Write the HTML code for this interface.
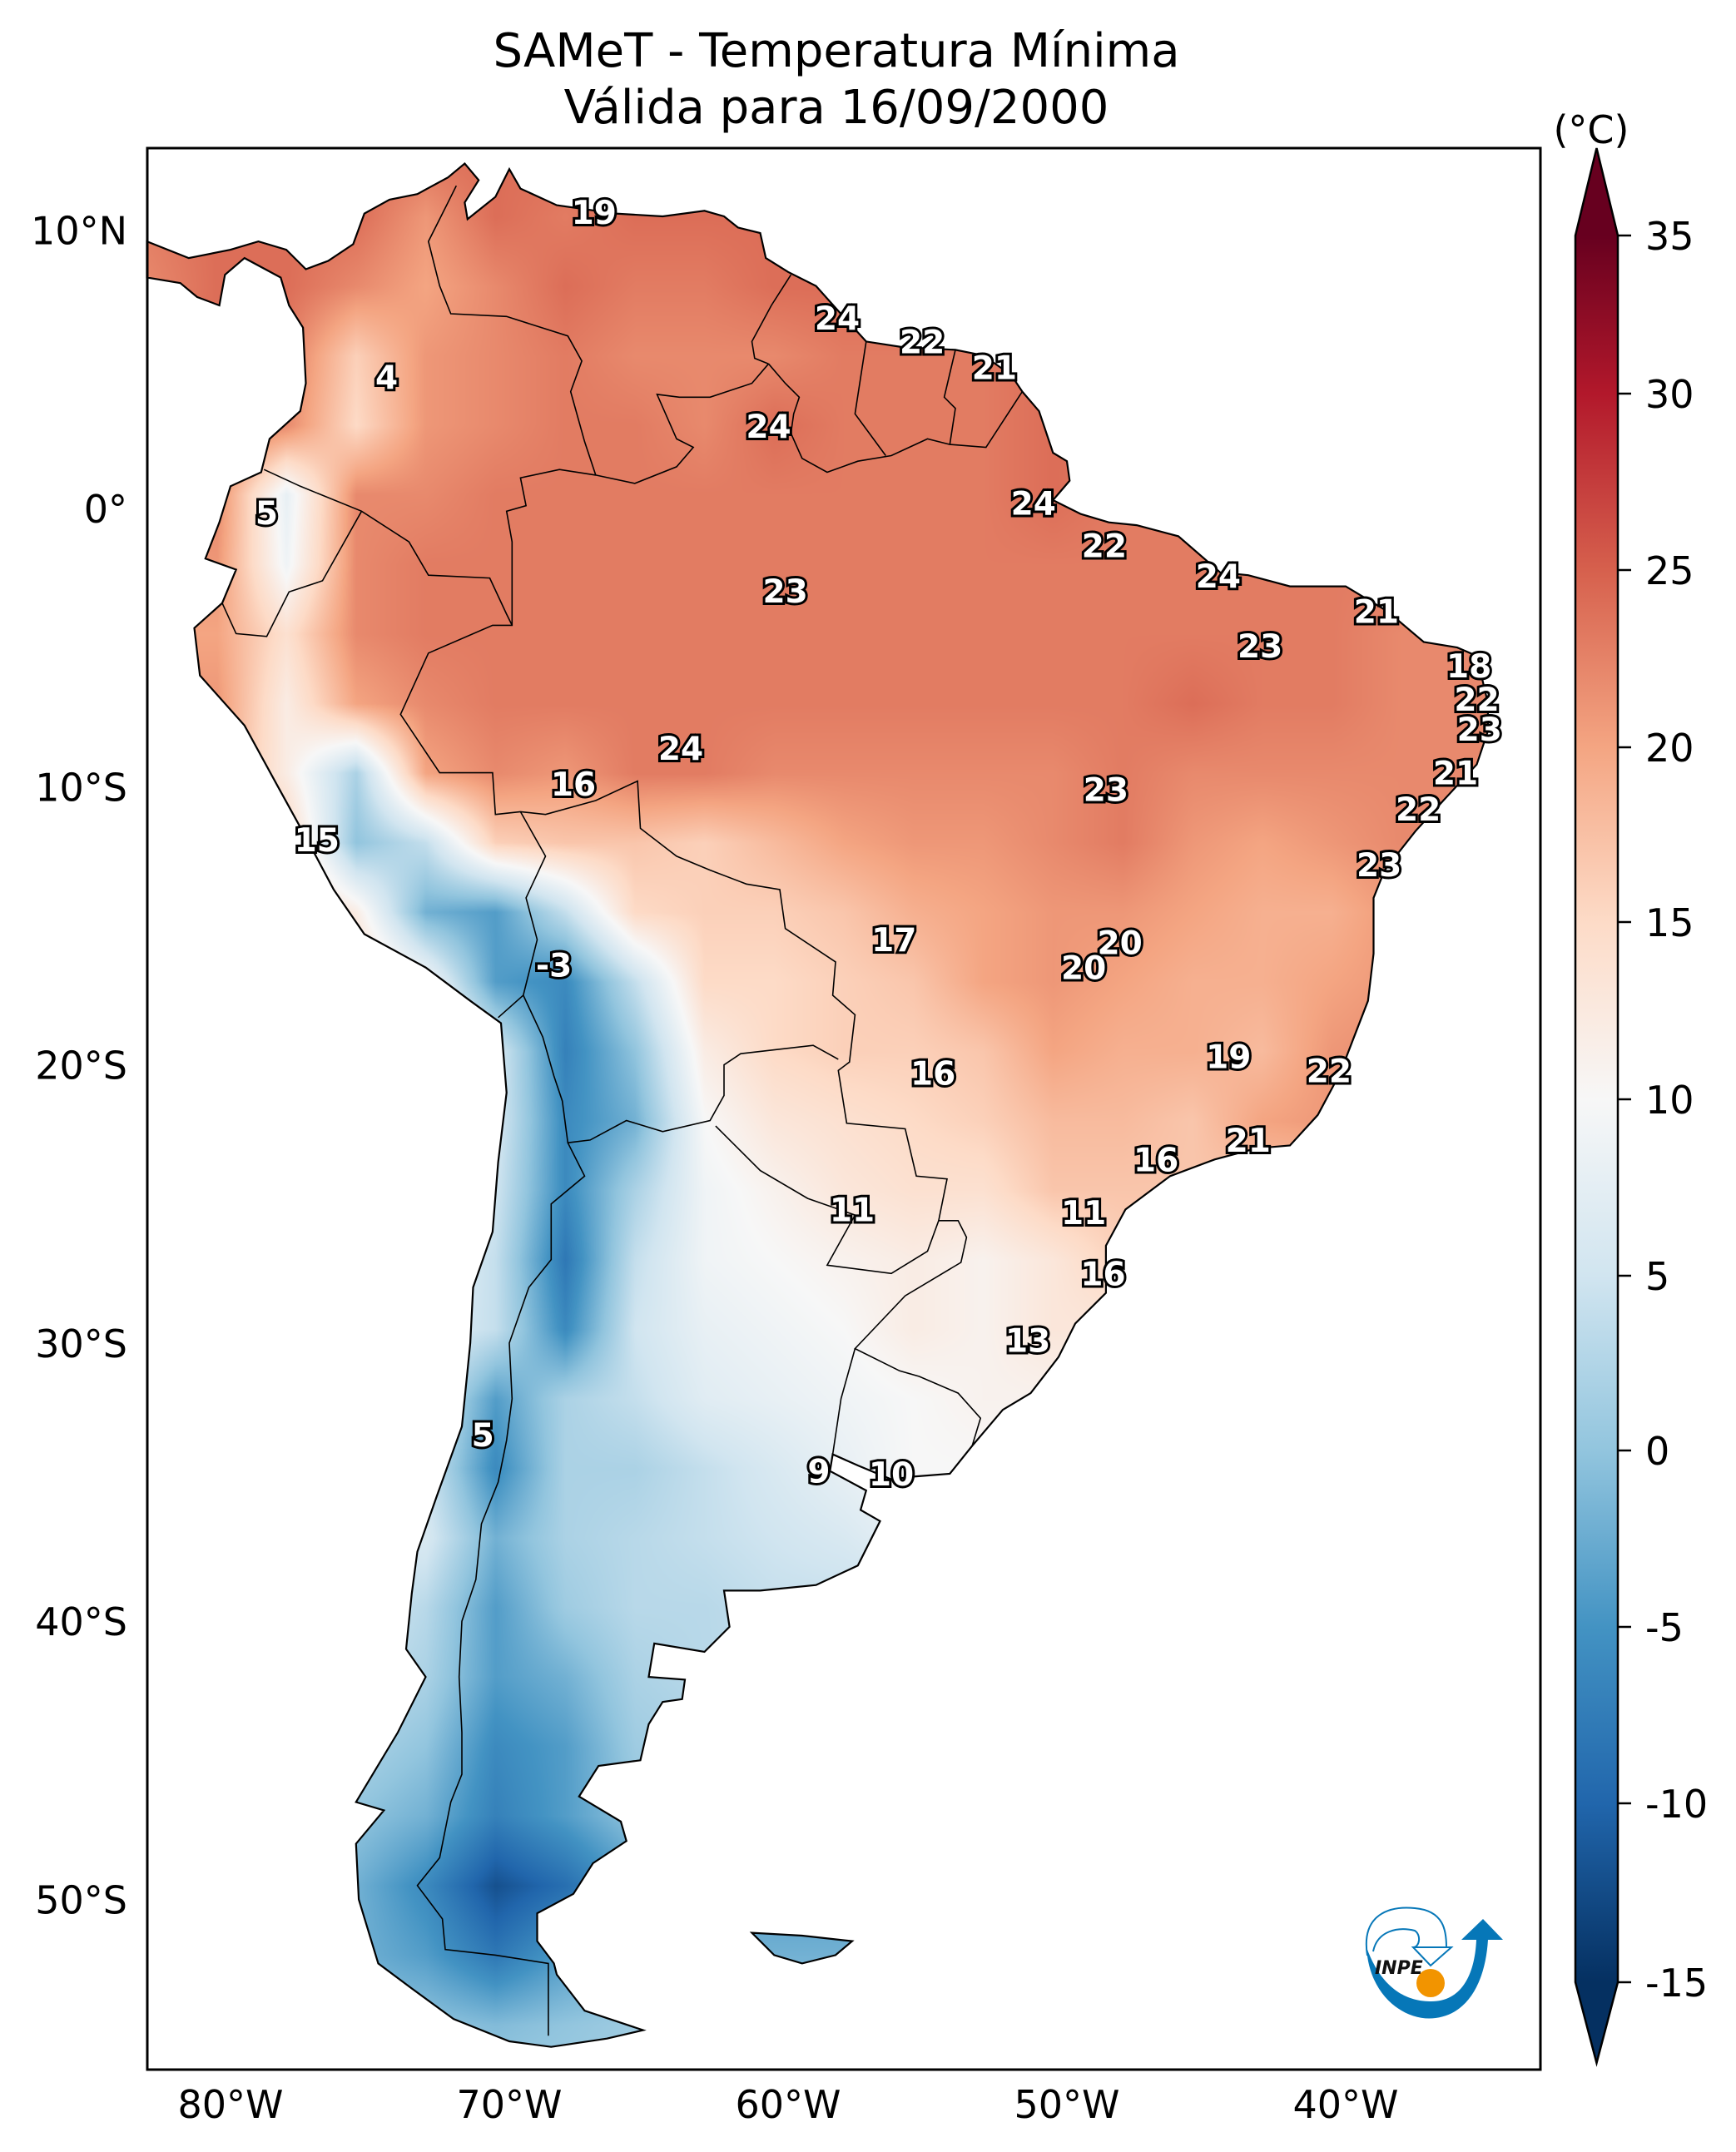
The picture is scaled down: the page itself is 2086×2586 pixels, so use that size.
<!DOCTYPE html>
<html><head><meta charset="utf-8">
<style>
html,body{margin:0;padding:0;background:#fff;}
#wrap{position:relative;width:2086px;height:2586px;overflow:hidden;font-family:"DejaVu Sans","Liberation Sans",sans-serif;}
canvas{position:absolute;left:0;top:0;}
svg{position:absolute;left:0;top:0;}
</style></head>
<body>
<div id="wrap">
<canvas id="field" width="2086" height="2586"></canvas>
<svg id="ov" width="2086" height="2586" xmlns="http://www.w3.org/2000/svg">
  <g id="title" font-size="56" text-anchor="middle" fill="#000">
    <text x="1005" y="80">SAMeT - Temperatura Mínima</text>
    <text x="1005" y="148">Válida para 16/09/2000</text>
  </g>
  <g id="borders"></g>
  <g id="coast"></g>
  <g id="labels"></g>
  <rect x="177" y="178" width="1674" height="2309" fill="none" stroke="#000" stroke-width="3"/>
  <g id="xticks" font-size="46" text-anchor="middle"></g>
  <g id="yticks" font-size="46" text-anchor="end"></g>
  <g id="cbar"></g>
  <g id="logo">
    <path d="M1642,2340 C1645,2400 1690,2430 1725,2425 C1765,2420 1785,2380 1788,2331 L1806,2331 L1782,2306 L1756,2331 L1774,2331 C1772,2375 1755,2405 1720,2405 C1690,2405 1660,2390 1642,2340 Z" fill="#0677b8"/>
    <path d="M1643,2350 C1635,2300 1670,2290 1700,2293 C1735,2296 1738,2320 1738,2340 M1650,2345 C1655,2320 1680,2315 1700,2320 C1708,2325 1706,2340 1698,2340" fill="none" stroke="#0677b8" stroke-width="2"/>
    <path d="M1698,2340 L1744,2340 L1719,2362 Z" fill="#fff" stroke="#0677b8" stroke-width="2"/>
    <circle cx="1719" cy="2383" r="17" fill="#f29400"/>
    <text x="1652" y="2372" font-size="22" font-style="italic" font-weight="bold" fill="#111">INPE</text>
  </g>
</svg>
</div>
<script>
// ---------- data ----------
const gridLons = [-83,-80.5,-78,-75.5,-73,-70.5,-68,-65.5,-63,-60.5,-58,-55.5,-53,-50.5,-48,-45.5,-43,-40.5,-38,-35.5,-33];
const gridLats = [13,10.5,8,5.5,3,0.5,-2,-4.5,-7,-9.5,-12,-14.5,-17,-19.5,-22,-24.5,-27,-29.5,-32,-34.5,-37,-39.5,-42,-44.5,-47,-49.5,-52,-54.5,-57];
const tempRows = [
 [24,24,24,24,24,24,24,24,24,24,24,24,24,24,24,24,24,24,24,24,24],
 [23,24,24,24,21,24,23,24,24,24,24,24,24,24,24,24,24,24,24,24,24],
 [22,24,24,22,20,22,24,23,23,24,24,24,24,24,24,24,24,24,24,24,24],
 [24,24,23,16,21,22,23,22,22,22,23,23,23,24,24,24,24,24,24,24,24],
 [24,24,22,15,21,22,23,23,22,24,23,23,23,24,24,24,24,24,24,24,24],
 [22,22,8,22,22,23,23,23,23,23,23,23,23,24,23,23,23,23,23,23,23],
 [21,21,9,22,23,23,23,23,23,23,23,23,23,23,23,23,23,23,23,23,23],
 [20,20,14,22,23,23,23,23,23,23,23,23,23,23,23,23,23,23,22,22,22],
 [21,21,12,20,22,23,23,23,23,23,23,23,23,23,23,24,23,23,22,22,22],
 [20,20,12,2,20,22,21,23,23,22,22,22,22,22,23,22,22,22,22,22,22],
 [18,18,16,0,4,16,17,17,16,18,20,21,21,22,23,21,20,21,22,22,22],
 [18,18,18,12,-2,-4,4,15,16,16,17,19,20,21,21,20,19,19,21,22,22],
 [17,17,17,16,10,-4,-6,4,15,15,16,17,20,21,20,19,19,20,21,22,22],
 [16,16,16,16,14,6,-7,0,12,15,16,16,17,20,19,19,18,21,22,22,22],
 [14,14,14,14,12,6,-6,-2,10,13,14,15,16,18,18,17,20,21,22,22,22],
 [12,12,12,12,10,5,-6,2,9,11,13,14,14,17,17,17,17,17,17,17,17],
 [8,8,8,8,8,4,-8,4,9,10,11,12,11,13,16,16,16,16,16,16,16],
 [7,7,7,7,7,4,-6,5,8,9,10,12,11,13,13,13,13,13,13,13,13],
 [6,6,6,6,6,-4,2,4,7,8,9,10,11,11,11,11,11,11,11,11,11],
 [5,5,5,5,5,-6,2,2,4,6,8,10,10,10,10,10,10,10,10,10,10],
 [6,6,6,6,6,-2,2,3,4,5,6,8,8,8,8,8,8,8,8,8,8],
 [6,6,6,6,3,-4,1,3,3,4,4,4,4,4,4,4,4,4,4,4,4],
 [4,4,4,4,2,-4,-2,2,3,3,3,3,3,3,3,3,3,3,3,3,3],
 [2,2,2,2,0,-6,-4,1,2,2,2,2,2,2,2,2,2,2,2,2,2],
 [0,0,0,0,-2,-7,-4,0,0,0,0,0,0,0,0,0,0,0,0,0,0],
 [-2,-2,-2,-2,-6,-12,-9,-4,-4,-4,-4,-4,-4,-4,-4,-4,-4,-4,-4,-4,-4],
 [-2,-2,-2,-2,-4,-8,-4,-2,-2,-2,-2,-2,-2,-2,-2,-2,-2,-2,-2,-2,-2],
 [0,0,0,0,0,-1,0,1,1,1,1,1,1,1,1,1,1,1,1,1,1],
 [1,1,1,1,1,1,1,1,1,1,1,1,1,1,1,1,1,1,1,1,1]
];
const labelValues = ["19","24","22","21","4","24","5","24","22","24","23","21","23","18","22","23","24","23","16","21","22","15","23","17","20","20","-3","16","19","22","21","16","11","11","16","13","5","9","10"];
const labelLons = [-66.96,-58.24,-55.19,-52.6,-74.4,-60.7,-78.7,-51.2,-48.66,-44.57,-60.1,-38.9,-43.07,-35.58,-35.3,-35.2,-63.85,-48.6,-67.7,-36.06,-37.4,-76.9,-38.8,-56.2,-48.1,-49.4,-68.4,-54.8,-44.2,-40.6,-43.5,-46.8,-57.7,-49.4,-48.7,-51.4,-70.95,-58.9,-56.3];
const labelLats = [10.65,6.85,6.0,5.07,4.73,2.96,-0.15,0.2,-1.33,-2.42,-2.96,-3.7,-4.93,-5.66,-6.85,-7.93,-8.62,-10.1,-9.9,-9.5,-10.8,-11.9,-12.8,-15.5,-15.6,-16.5,-16.4,-20.3,-19.7,-20.2,-22.7,-23.4,-25.2,-25.3,-27.5,-29.9,-33.3,-34.6,-34.7];
const lonTicks = [-80,-70,-60,-50,-40];
const lonTickLabels = ["80°W","70°W","60°W","50°W","40°W"];
const latTicks = [10,0,-10,-20,-30,-40,-50];
const latTickLabels = ["10°N","0°","10°S","20°S","30°S","40°S","50°S"];
const cbarTicks = [35,30,25,20,15,10,5,0,-5,-10,-15];
const cbarTickLabels = ["35","30","25","20","15","10","5","0","-5","-10","-15"];
const cbarTickY = [283,473,685,898,1108,1321,1533,1743,1955,2167,2382];
const cmapTemps = [-15,-10,-5,0,5,10,15,20,25,30,35];
const cmapColors = ["#053061","#2166ac","#4393c3","#92c5de","#d1e5f0","#f7f7f7","#fddbc7","#f4a582","#d6604d","#b2182b","#67001f"];

const coastline = [[-83,8.3],[-83,9.6],[-81.5,9],[-80,9.3],[-79,9.6],[-78,9.3],[-77.3,8.6],[-76.5,8.9],[-75.6,9.5],[-75.2,10.6],[-74.3,11.1],[-73.3,11.3],[-72.2,11.9],[-71.6,12.4],[-71.1,11.8],[-71.6,11],[-71.5,10.4],[-71,10.8],[-70.5,11.2],[-70,12.2],[-69.6,11.5],[-68.3,10.9],[-66.2,10.6],[-64.5,10.5],[-63,10.7],[-62.3,10.5],[-61.8,10.1],[-61,9.9],[-60.8,9],[-60,8.5],[-59,8],[-58.2,7.1],[-57.2,6],[-55.9,5.8],[-54,5.7],[-53,5.5],[-52,4.8],[-51.6,4.2],[-51,3.5],[-50.5,2],[-50,1.7],[-49.9,1],[-50.5,0.3],[-49.5,-0.2],[-48.5,-0.5],[-47.5,-0.6],[-46,-1],[-44.5,-2.3],[-43.5,-2.4],[-42,-2.8],[-40,-2.8],[-38.5,-3.7],[-37.2,-4.8],[-36,-5],[-35.3,-5.3],[-34.9,-7],[-34.9,-8],[-35.3,-9.2],[-36.5,-10.5],[-37.5,-11.6],[-38.6,-13],[-39,-14],[-39,-16],[-39.2,-17.7],[-39.7,-19],[-40.2,-20.3],[-41,-21.8],[-42,-22.9],[-43.2,-23],[-44.7,-23.4],[-46.3,-24],[-47.9,-25.2],[-48.6,-26.5],[-48.6,-28.2],[-49.7,-29.3],[-50.3,-30.5],[-51.3,-31.8],[-52.3,-32.4],[-53.4,-33.7],[-54.2,-34.7],[-55.5,-34.8],[-56.3,-34.9],[-57.5,-34.4],[-58.4,-34],[-58.5,-34.6],[-57.2,-35.3],[-57.4,-36],[-56.7,-36.4],[-57.5,-38],[-59,-38.7],[-61,-38.9],[-62.3,-38.9],[-62.1,-40.2],[-63,-41.1],[-64.8,-40.8],[-65,-42],[-63.7,-42.1],[-63.8,-42.8],[-64.5,-42.9],[-65,-43.7],[-65.3,-45],[-66.8,-45.2],[-67.5,-46.3],[-66,-47.2],[-65.8,-47.9],[-67,-48.7],[-67.7,-49.8],[-69,-50.5],[-69,-51.5],[-68.4,-52.3],[-68.3,-52.7],[-67.3,-54],[-65.2,-54.7],[-66.5,-55],[-68.5,-55.3],[-70,-55.1],[-72,-54.3],[-73.5,-53.2],[-74.7,-52.3],[-75.4,-50],[-75.5,-48],[-74.5,-46.8],[-75.5,-46.5],[-74,-44],[-73,-42],[-73.7,-41],[-73.5,-39],[-73.3,-37.5],[-72.6,-35.5],[-71.7,-33],[-71.4,-30],[-71.3,-28],[-70.6,-26],[-70.4,-23.5],[-70.1,-21],[-70.3,-18.5],[-71.4,-17.7],[-73,-16.5],[-75.2,-15.3],[-76.3,-13.7],[-77.2,-12],[-78.3,-10],[-79.5,-7.8],[-81.1,-6],[-81.3,-4.3],[-80.3,-3.4],[-79.8,-2.2],[-80.9,-1.8],[-80.4,-0.5],[-80,0.8],[-78.9,1.3],[-78.6,2.5],[-77.5,3.5],[-77.3,4.5],[-77.4,6.5],[-77.9,7.3],[-78.2,8.3],[-79.5,9],[-80.2,8.4],[-80.4,7.3],[-81.2,7.6],[-81.8,8.1],[-83,8.3]];
const falklands = [[-61.3,-51.2],[-59.5,-51.3],[-57.7,-51.5],[-58.3,-52],[-59.5,-52.3],[-60.5,-52],[-61.3,-51.2]];
const borderLines = [
 [[-60.7,5.2],[-60.1,4.5],[-59.6,4],[-59.8,3.4],[-59.9,2.7],[-59.5,1.8],[-58.6,1.3],[-57.5,1.7],[-56.3,1.9],[-55,2.5],[-54.2,2.3],[-52.9,2.2],[-51.6,4.2]],
 [[-60.7,5.2],[-61.3,4.5],[-62.8,4],[-63.9,4],[-64.7,4.1],[-64,2.5],[-63.4,2.2],[-64,1.5],[-65.5,0.9],[-66.9,1.2],[-68.2,1.4],[-69.6,1.1],[-69.4,0.1],[-70.1,-0.1],[-69.9,-1.2],[-69.9,-4.2],[-70.6,-4.2],[-72.9,-5.2],[-73.9,-7.4],[-72.9,-8.9],[-72.5,-9.5],[-70.6,-9.5],[-70.5,-11],[-69.6,-10.9],[-68.7,-11],[-66.9,-10.5],[-65.4,-9.8],[-65.3,-11.5],[-64,-12.5],[-62.8,-13],[-61.5,-13.5],[-60.3,-13.7],[-60.1,-15.1],[-58.3,-16.3],[-58.4,-17.5],[-57.6,-18.2],[-57.8,-19.9],[-58.2,-20.2],[-57.9,-22.1],[-55.8,-22.3],[-55.4,-24],[-54.3,-24.1],[-54.6,-25.6],[-53.9,-25.6],[-53.6,-26.2],[-53.8,-27.1],[-55.8,-28.3],[-57.6,-30.2],[-56,-31],[-55.3,-31.2],[-53.9,-31.8],[-53.1,-32.7],[-53.4,-33.7]],
 [[-71.9,11.6],[-72.2,11],[-72.9,9.6],[-72.5,8],[-72.1,7],[-70.1,6.9],[-67.9,6.2],[-67.4,5.3],[-67.8,4.2],[-67.3,2.4],[-66.9,1.2]],
 [[-59.9,8.4],[-60.6,7.3],[-61.3,6],[-61.2,5.4],[-60.7,5.2]],
 [[-57.2,6],[-57.6,3.4],[-56.5,1.9]],
 [[-54,5.7],[-54.4,4],[-54,3.6],[-54.2,2.3]],
 [[-78.8,1.4],[-77.5,0.8],[-75.3,-0.1],[-73.6,-1.2],[-72.9,-2.4],[-70.7,-2.5],[-70.1,-3.8],[-69.9,-4.2]],
 [[-80.3,-3.4],[-79.8,-4.5],[-78.7,-4.6],[-77.9,-3],[-76.7,-2.6],[-75.3,-0.1]],
 [[-69.6,-10.9],[-68.7,-12.5],[-69.4,-14],[-69,-15.5],[-69.5,-17.5],[-70.4,-18.3]],
 [[-69.5,-17.5],[-68.8,-19],[-68.4,-20.4],[-68.1,-21.3],[-67.9,-22.8],[-67.1,-22.7],[-65.8,-22],[-64.5,-22.4],[-62.8,-22],[-62.3,-21.1],[-62.3,-20],[-61.7,-19.6],[-59.1,-19.3],[-58.2,-19.8]],
 [[-62.6,-22.2],[-61,-23.8],[-59.3,-24.8],[-57.6,-25.4],[-58.6,-27.2],[-56.3,-27.5],[-55,-26.7],[-54.6,-25.6]],
 [[-67.9,-22.8],[-67.3,-24],[-68.5,-25],[-68.5,-27],[-69.3,-28],[-70,-30],[-69.9,-32],[-70.1,-33.5],[-70.4,-35],[-71,-36.5],[-71.2,-38.5],[-71.7,-40],[-71.8,-42],[-71.7,-44],[-71.7,-45.5],[-72.1,-46.5],[-72.5,-48.5],[-73.3,-49.5],[-72.4,-50.7],[-72.3,-51.8],[-70.5,-52],[-68.6,-52.3],[-68.6,-54.9]],
 [[-57.6,-30.2],[-58.1,-32],[-58.4,-34]]
];

// ---------- projection ----------
function px(lon){ return 277 + (lon + 80) * 33.5; }
function py(lat){ return 611 - lat * 33.43; }
const X0=177, Y0=178, X1=1851, Y1=2487;

function hexToRgb(h){ return [parseInt(h.substr(1,2),16),parseInt(h.substr(3,2),16),parseInt(h.substr(5,2),16)]; }
const cmapRgb = cmapColors.map(hexToRgb);
function colorFor(t){
  if (t <= cmapTemps[0]) return cmapRgb[0];
  const n = cmapTemps.length;
  if (t >= cmapTemps[n-1]) return cmapRgb[n-1];
  for (let i=0;i<n-1;i++){
    if (t <= cmapTemps[i+1]){
      const f=(t-cmapTemps[i])/(cmapTemps[i+1]-cmapTemps[i]);
      const a=cmapRgb[i], b=cmapRgb[i+1];
      return [a[0]+(b[0]-a[0])*f, a[1]+(b[1]-a[1])*f, a[2]+(b[2]-a[2])*f];
    }
  }
  return cmapRgb[n-1];
}
function tempAt(lon,lat){
  let gx=(lon-gridLons[0])/(gridLons[1]-gridLons[0]);
  let gy=(gridLats[0]-lat)/(gridLats[0]-gridLats[1]);
  gx=Math.max(0,Math.min(gridLons.length-1.001,gx));
  gy=Math.max(0,Math.min(gridLats.length-1.001,gy));
  const i=Math.floor(gx), j=Math.floor(gy), fx=gx-i, fy=gy-j;
  const v00=tempRows[j][i], v10=tempRows[j][i+1], v01=tempRows[j+1][i], v11=tempRows[j+1][i+1];
  return (v00*(1-fx)+v10*fx)*(1-fy)+(v01*(1-fx)+v11*fx)*fy;
}

// ---------- field ----------
(function(){
  const W=X1-X0, H=Y1-Y0;
  const off=document.createElement('canvas'); off.width=W; off.height=H;
  const octx=off.getContext('2d');
  const img=octx.createImageData(W,H);
  for(let y=0;y<H;y++){
    const lat=(611-(y+Y0))/33.43;
    for(let x=0;x<W;x++){
      const lon=-80+((x+X0)-277)/33.5;
      const c=colorFor(tempAt(lon,lat));
      const k=(y*W+x)*4;
      img.data[k]=c[0]; img.data[k+1]=c[1]; img.data[k+2]=c[2]; img.data[k+3]=255;
    }
  }
  octx.putImageData(img,0,0);
  const ctx=document.getElementById('field').getContext('2d');
  ctx.save();
  const p=new Path2D();
  [coastline,falklands].forEach(poly=>{
    poly.forEach((pt,i)=>{ const X=px(pt[0]),Y=py(pt[1]); if(i===0)p.moveTo(X,Y); else p.lineTo(X,Y); });
    p.closePath();
  });
  ctx.clip(p);
  ctx.drawImage(off,X0,Y0);
  ctx.restore();
})();

// ---------- overlay ----------
const NS='http://www.w3.org/2000/svg';
function ptsStr(arr){ return arr.map(p=>px(p[0]).toFixed(1)+','+py(p[1]).toFixed(1)).join(' '); }
const coastG=document.getElementById('coast');
[coastline,falklands].forEach((poly,i)=>{
  const el=document.createElementNS(NS,'polygon');
  el.setAttribute('points',ptsStr(poly));
  el.setAttribute('fill','none'); el.setAttribute('stroke','#000'); el.setAttribute('stroke-width','2.2');
  
  
  coastG.appendChild(el);
});
const bG=document.getElementById('borders');
borderLines.forEach(line=>{
  const el=document.createElementNS(NS,'polyline');
  el.setAttribute('points',ptsStr(line));
  el.setAttribute('fill','none'); el.setAttribute('stroke','#000'); el.setAttribute('stroke-width','1.6');
  
  
  bG.appendChild(el);
});
const lG=document.getElementById('labels');
labelValues.forEach((v,i)=>{
  const t=document.createElementNS(NS,'text');
  t.setAttribute('x',px(labelLons[i]).toFixed(1));
  t.setAttribute('y',(py(labelLats[i])+14).toFixed(1));
  t.setAttribute('text-anchor','middle');
  t.setAttribute('font-size','39');
  t.setAttribute('font-weight','bold');
  t.setAttribute('fill','#fff'); t.setAttribute('stroke','#000'); t.setAttribute('stroke-width','6');
  t.setAttribute('paint-order','stroke');
  
  
  t.textContent=v;
  lG.appendChild(t);
});
const xG=document.getElementById('xticks');
lonTicks.forEach((lon,i)=>{
  const t=document.createElementNS(NS,'text');
  t.setAttribute('x',px(lon).toFixed(1)); t.setAttribute('y','2545');
  
  
  t.textContent=lonTickLabels[i]; xG.appendChild(t);
});
const yG=document.getElementById('yticks');
latTicks.forEach((lat,i)=>{
  const t=document.createElementNS(NS,'text');
  t.setAttribute('x','153'); t.setAttribute('y',(py(lat)+17).toFixed(1));
  
  
  t.textContent=latTickLabels[i]; yG.appendChild(t);
});
// colorbar
(function(){
  const g=document.getElementById('cbar');
  const L=1893,R=1944,C=(L+R)/2,TOP=178,BOT=2479;
  const yTop=cbarTickY[0], yBot=cbarTickY[cbarTickY.length-1];
  const defs=document.createElementNS(NS,'defs');
  const grad=document.createElementNS(NS,'linearGradient');
  grad.setAttribute('id','cbgrad'); grad.setAttribute('gradientUnits','userSpaceOnUse');
  grad.setAttribute('x1','0'); grad.setAttribute('x2','0'); grad.setAttribute('y1',yTop); grad.setAttribute('y2',yBot);
  cbarTicks.forEach((v,i)=>{
    const s=document.createElementNS(NS,'stop');
    s.setAttribute('offset',((cbarTickY[i]-yTop)/(yBot-yTop)).toFixed(4));
    const c=colorFor(v);
    s.setAttribute('stop-color','rgb('+c.map(Math.round).join(',')+')');
    grad.appendChild(s);
  });
  defs.appendChild(grad); g.appendChild(defs);
  const rect=document.createElementNS(NS,'rect');
  rect.setAttribute('x',L); rect.setAttribute('y',yTop); rect.setAttribute('width',R-L); rect.setAttribute('height',yBot-yTop);
  rect.setAttribute('fill','url(#cbgrad)');
   
  g.appendChild(rect);
  const up=document.createElementNS(NS,'polygon');
  up.setAttribute('points',L+','+yTop+' '+C+','+TOP+' '+R+','+yTop);
  up.setAttribute('fill',cmapColors[cmapColors.length-1]);
   
  g.appendChild(up);
  const dn=document.createElementNS(NS,'polygon');
  dn.setAttribute('points',L+','+yBot+' '+C+','+BOT+' '+R+','+yBot);
  dn.setAttribute('fill',cmapColors[0]);
   
  g.appendChild(dn);
  const out=document.createElementNS(NS,'polygon');
  out.setAttribute('points',L+','+yTop+' '+C+','+TOP+' '+R+','+yTop+' '+R+','+yBot+' '+C+','+BOT+' '+L+','+yBot);
  out.setAttribute('fill','none'); out.setAttribute('stroke','#000'); out.setAttribute('stroke-width','2.5');
   
  g.appendChild(out);
  cbarTicks.forEach((v,i)=>{
    const ln=document.createElementNS(NS,'line');
    ln.setAttribute('x1',R); ln.setAttribute('x2',R+16); ln.setAttribute('y1',cbarTickY[i]); ln.setAttribute('y2',cbarTickY[i]);
    ln.setAttribute('stroke','#000'); ln.setAttribute('stroke-width','2.5');
     
    g.appendChild(ln);
    const t=document.createElementNS(NS,'text');
    t.setAttribute('x','1977'); t.setAttribute('y',cbarTickY[i]+17); t.setAttribute('font-size','46');
     
    t.textContent=cbarTickLabels[i]; g.appendChild(t);
  });
  const u=document.createElementNS(NS,'text');
  u.setAttribute('x','1912'); u.setAttribute('y','172'); u.setAttribute('font-size','46'); u.setAttribute('text-anchor','middle');
   
  u.textContent='(°C)'; g.appendChild(u);
})();
</script>
</body></html>
